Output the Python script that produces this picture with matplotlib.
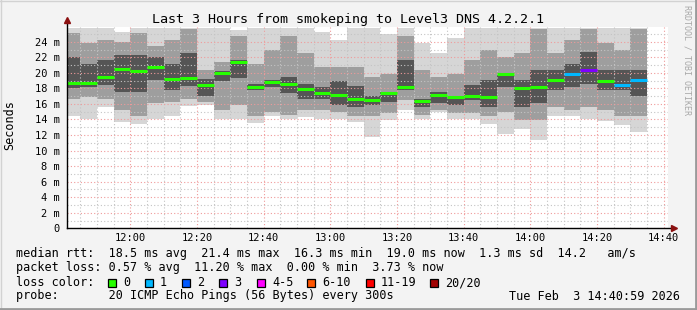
import matplotlib
matplotlib.use('Agg')
import matplotlib.pyplot as plt
from matplotlib.patches import Rectangle
from matplotlib.lines import Line2D
import numpy as np

# 5 minute slots, minutes since midnight (11:40 ... 14:30)
slot_start = list(range(700, 875, 5))

# smoke values (ms)
smoke_max = [25.8, 25.8, 25.8, 25.3, 25.8, 25.8, 25.8, 25.8, 25.8, 25.8, 25.5, 25.8,
             25.8, 25.8, 25.8, 25.2, 24.2, 25.8, 25.8, 25.0, 25.8, 23.8, 22.5, 24.5,
             25.8, 25.8, 25.8, 25.8, 25.8, 25.8, 25.8, 25.8, 25.8, 25.8, 25.8]
smoke_hi2 = [25.1, 23.8, 24.2, 24.0, 25.1, 23.4, 24.2, 25.7, 20.4, 21.4, 24.8, 21.2,
             22.9, 24.7, 22.5, 20.8, 20.8, 20.8, 19.5, 19.9, 24.7, 20.4, 19.5, 19.9,
             21.6, 22.9, 22.1, 22.5, 25.7, 22.5, 24.2, 25.7, 23.8, 22.9, 25.7]
smoke_hi1 = [22.1, 21.2, 21.6, 22.3, 22.3, 22.1, 21.2, 22.5, 19.2, 20.3, 21.6, 18.6,
             19.1, 19.5, 18.6, 18.2, 19.0, 18.3, 17.0, 17.6, 21.6, 16.7, 17.6, 16.9,
             18.4, 19.1, 19.9, 19.1, 20.4, 20.4, 21.2, 22.7, 20.4, 20.4, 20.4]
median_rtt = [18.65, 18.65, 19.5, 20.49, 20.27, 20.79, 19.24, 19.33, 18.47, 20.01, 21.43, 18.17,
              18.82, 18.6, 17.92, 17.44, 17.14, 16.67, 16.5, 17.44, 18.17, 16.35, 17.18, 16.89,
              17.02, 16.89, 19.8, 18.09, 18.22, 19.07, 19.89, 20.4, 18.99, 18.43, 19.07]
smoke_lo1 = [18.0, 18.2, 18.4, 17.6, 17.6, 19.1, 17.8, 18.3, 17.0, 19.0, 19.3, 17.8,
             18.2, 17.4, 16.7, 16.7, 15.9, 15.6, 15.8, 16.3, 17.8, 15.6, 16.1, 15.9,
             16.5, 15.6, 18.2, 15.6, 16.1, 17.8, 18.2, 18.6, 17.8, 17.8, 17.0]
smoke_lo2 = [16.7, 16.9, 16.7, 15.2, 14.4, 16.1, 16.3, 16.7, 16.3, 15.2, 15.9, 14.4,
             15.0, 14.6, 15.2, 15.2, 14.9, 14.4, 14.4, 14.8, 16.5, 14.6, 15.2, 14.8,
             14.8, 14.4, 15.0, 13.9, 13.9, 15.6, 15.2, 15.6, 15.2, 14.4, 14.4]
smoke_min = [14.4, 14.0, 15.6, 13.7, 13.4, 14.0, 14.4, 15.7, 15.9, 14.0, 14.1, 13.6,
             14.4, 14.0, 14.3, 14.0, 14.0, 13.7, 11.7, 13.9, 15.2, 14.0, 14.9, 14.0,
             14.0, 13.4, 12.1, 12.8, 11.4, 14.4, 14.4, 14.1, 13.8, 13.3, 12.4]
# lost pings per slot (of 20)
lost = [0] * 30 + [1, 3, 0, 1, 1]

loss_labels = ['0', '1', '2', '3', '4-5', '6-10', '11-19', '20/20']
loss_colors = ['#26ff00', '#00b8ff', '#0059ff', '#7e00ff', '#ff00ff', '#ff5500', '#ff0000', '#a00000']
loss_upper = [0, 1, 2, 3, 5, 10, 19, 20]

W, H = 697, 310
mono = 'DejaVu Sans Mono'


def fx(px):
    return px / W


def fy(py):
    return 1 - py / H


def loss_color(n):
    for up, c in zip(loss_upper, loss_colors):
        if n <= up:
            return c
    return loss_colors[-1]


fig = plt.figure(figsize=(W / 100, H / 100), dpi=100, facecolor='#f3f3f3')
ax = fig.add_axes([fx(67), fy(228.3), fx(668) - fx(67), fy(27) - fy(228.3)])
ax.set_facecolor('white')

x = np.array(slot_start)
ax.bar(x, np.array(smoke_max) - np.array(smoke_min), bottom=smoke_min, width=5,
       align='edge', color='#d6d6d6', linewidth=0, zorder=1)
ax.bar(x, np.array(smoke_hi2) - np.array(smoke_lo2), bottom=smoke_lo2, width=5,
       align='edge', color='#9e9e9e', linewidth=0, zorder=1)
ax.bar(x, np.array(smoke_hi1) - np.array(smoke_lo1), bottom=smoke_lo1, width=5,
       align='edge', color='#555555', linewidth=0, zorder=1)

# median line coloured by loss
for s, m, n in zip(slot_start, median_rtt, lost):
    ax.hlines(m, s, s + 5, colors=loss_color(n), linewidth=2.2, zorder=3)

ax.set_xlim(700.98, 881.3)
ax.set_ylim(0, 25.9)

xt = list(range(720, 881, 20))
ax.set_xticks(xt)
ax.set_xticklabels(['%d:%02d' % (t // 60, t % 60) for t in xt], family=mono, fontsize=7.5)
ax.set_xticks(np.arange(705, 885, 5), minor=True)
yt = list(range(0, 25, 2))
ax.set_yticks(yt)
ax.set_yticklabels(['0' if v == 0 else '%d m' % v for v in yt], family=mono, fontsize=7.5)
ax.set_yticks(np.arange(1, 26, 2), minor=True)
ax.tick_params(axis='x', which='both', length=0, pad=3.5)
ax.tick_params(axis='y', which='both', length=0, pad=5)

ax.grid(which='major', color='#f09a9a', linestyle=(0, (1, 2)), linewidth=0.8, zorder=2)
ax.grid(which='minor', color='#c4c4c4', linestyle=(0, (1, 2)), linewidth=0.8, zorder=2)
ax.set_axisbelow(False)

for sp in ax.spines.values():
    sp.set_visible(False)
# axes with arrows, rrdtool style
ax.plot([0, 1.008], [0, 0], transform=ax.transAxes, color='black', lw=1, clip_on=False, zorder=4)
ax.plot([0, 0], [0, 1.03], transform=ax.transAxes, color='black', lw=1, clip_on=False, zorder=4)
ax.plot([1.01], [0], marker='>', ms=4.5, color='#8b1010', transform=ax.transAxes, clip_on=False, zorder=5)
ax.plot([0], [1.035], marker='^', ms=4.5, color='#8b1010', transform=ax.transAxes, clip_on=False, zorder=5)

fig.text(0.5, fy(19), 'Last 3 Hours from smokeping to Level3 DNS 4.2.2.1',
         ha='center', va='center', family=mono, fontsize=9.6)
fig.text(fx(10), fy(125), 'Seconds', rotation=90, ha='center', va='center',
         family=mono, fontsize=8.5)
fig.text(fx(687), fy(60), 'RRDTOOL / TOBI OETIKER', rotation=270, ha='center', va='center',
         family=mono, fontsize=6, color='#a8a8a8')

lines = [
    'median rtt:  18.5 ms avg  21.4 ms max  16.3 ms min  19.0 ms now  1.3 ms sd  14.2   am/s',
    'packet loss: 0.57 % avg  11.20 % max  0.00 % min  3.73 % now',
    'loss color:',
    'probe:       20 ICMP Echo Pings (56 Bytes) every 300s',
]
for i, s in enumerate(lines):
    fig.text(fx(16), fy(254 + 14 * i), s, family=mono, fontsize=8.5, va='center')
fig.text(fx(680), fy(296), 'Tue Feb  3 14:40:59 2026', family=mono, fontsize=8.5,
         va='center', ha='right')

box_x = [108, 145, 182, 219, 257, 307, 366, 430]
for bx, lab, c in zip(box_x, loss_labels, loss_colors):
    fig.add_artist(Rectangle((fx(bx), fy(287)), fx(8), 8 / H, transform=fig.transFigure,
                             facecolor=c, edgecolor='black', linewidth=0.9))
    fig.text(fx(bx + 15), fy(282.5), lab, family=mono, fontsize=8.5, va='center')

# frame around the image
fig.add_artist(Line2D([0, 1], [fy(0.5), fy(0.5)], transform=fig.transFigure, color='#d2d2d2', lw=1))
fig.add_artist(Line2D([fx(0.5), fx(0.5)], [0, 1], transform=fig.transFigure, color='#d2d2d2', lw=1))
fig.add_artist(Line2D([0, 1], [fy(309), fy(309)], transform=fig.transFigure, color='#9a9a9a', lw=2))
fig.add_artist(Line2D([fx(696), fx(696)], [0, 1], transform=fig.transFigure, color='#9a9a9a', lw=2))

fig.savefig('out.png', dpi=100, facecolor=fig.get_facecolor())
